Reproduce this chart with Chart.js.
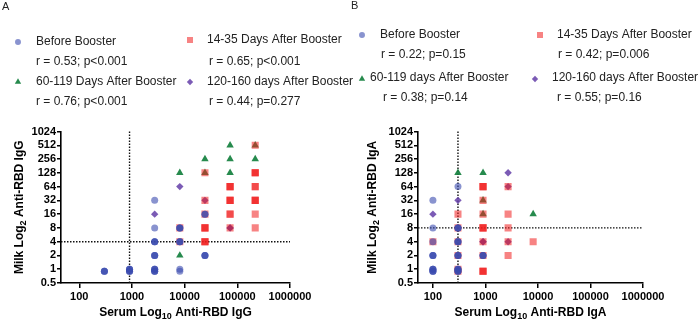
<!DOCTYPE html>
<html>
<head>
<meta charset="utf-8">
<script src="https://cdn.jsdelivr.net/npm/chart.js@4.4.0/dist/chart.umd.min.js"></script>
<style>
  body { margin: 0; background: #fff; }
  #wrap { position: relative; width: 699px; height: 325px; overflow: hidden; }
  .panel { position: absolute; top: 0; height: 325px; }
</style>
</head>
<body>
<div id="wrap">
  <div class="panel" style="left:0;width:360px"><canvas id="chartA"></canvas></div>
  <div class="panel" style="left:350px;width:349px;z-index:2"><canvas id="chartB"></canvas></div>
</div>
<script>
const FONT = "'Liberation Sans', Arial, Helvetica, sans-serif";

// series names and correlation stats
const seriesA = ['Before Booster', '14-35 Days After Booster', '60-119 Days After Booster', '120-160 days After Booster'];
const seriesB = ['Before Booster', '14-35 Days After Booster', '60-119 days After Booster', '120-160 days After Booster'];
const statsA = ['r = 0.53; p<0.001', 'r = 0.65; p<0.001', 'r = 0.76; p<0.001', 'r = 0.44; p=0.277'];
const statsB = ['r = 0.22; p=0.15', 'r = 0.42; p=0.006', 'r = 0.38; p=0.14', 'r = 0.55; p=0.16'];

// axis ticks
const xTicks = [100, 1000, 10000, 100000, 1000000];
const yTicks = [0.5, 1, 2, 4, 8, 16, 32, 64, 128, 256, 512, 1024];

// positivity cut-offs [serum, milk]
const iggCutoff = [900, 4];
const igaCutoff = [300, 8];

// panel A - IgG, [serum titer, milk titer], repeated points = several participants
const iggBefore = [
  [300,0.9],[300,0.9],[300,0.9],
  [900,1],[900,1],[900,1],[900,0.9],[900,0.9],[900,0.9],
  [2700,1],[2700,1],[2700,1],[2700,0.9],[2700,0.9],[2700,0.9],
  [2700,2],[2700,2],[2700,2],[2700,4],[2700,4],[2700,4],[2700,8],[2700,32],
  [8100,1],[8100,0.9],[8100,4],[8100,4],[8100,4],[8100,8],[8100,8],[8100,8],
  [24300,2],[24300,2],[24300,2],[24300,16],[24300,16]
];
const igg14to35 = [
  [8100,4],[8100,8],
  [24300,4],[24300,4],[24300,4],[24300,8],[24300,8],[24300,8],[24300,16],[24300,32],[24300,128],
  [72900,8],[72900,16],[72900,16],[72900,32],[72900,32],[72900,32],[72900,64],[72900,64],[72900,64],
  [218700,8],[218700,16],[218700,32],[218700,32],[218700,32],[218700,64],[218700,64],
  [218700,128],[218700,128],[218700,128],[218700,512]
];
const igg60to119 = [
  [8100,2],[8100,128],[24300,128],[24300,256],[72900,128],[72900,256],[72900,512],[218700,256],[218700,512]
];
const igg120to160 = [
  [2700,16],[8100,64],[24300,32],[72900,8],[72900,8]
];

// panel B - IgA
const igaBefore = [
  [100,1],[100,1],[100,1],[100,0.9],[100,0.9],[100,0.9],[100,2],[100,2],[100,2],[100,4],[100,8],[100,32],
  [300,1],[300,1],[300,1],[300,0.9],[300,0.9],[300,0.9],[300,2],[300,2],[300,2],
  [300,4],[300,4],[300,4],[300,8],[300,8],[300,8],[300,64],
  [900,2],[900,2],[900,2]
];
const iga14to35 = [
  [100,4],[300,1],[300,0.9],[300,2],[300,4],[300,8],[300,16],
  [900,0.9],[900,0.9],[900,0.9],[900,2],[900,4],[900,8],[900,8],[900,8],[900,16],[900,32],
  [900,64],[900,64],[900,64],
  [2700,2],[2700,4],[2700,8],[2700,16],[2700,64],[8100,4]
];
const iga60to119 = [
  [300,128],[900,128],[900,16],[900,32],[8100,16]
];
const iga120to160 = [
  [100,16],[300,32],[900,4],[900,4],[2700,4],[2700,64],[2700,128]
];

const markers = [
  { style: 'circle',   radius: 3.5, color: 'rgba(58,75,175,0.6)',  order: 1 },
  { style: 'rect',     radius: 5,   color: 'rgba(240,30,30,0.55)', order: 2 },
  { style: 'triangle', radius: 4.3, color: 'rgba(20,128,62,0.92)', order: 4 },
  { style: 'rectRot',  radius: 3.7, color: 'rgba(100,62,168,0.85)', order: 3 }
];

function drawRich(ctx, parts, cx, cy, angle) {
  const big = 'bold 12px ' + FONT, small = 'bold 9px ' + FONT;
  const widths = parts.map(p => { ctx.font = p[1] ? small : big; return ctx.measureText(p[0]).width; });
  const total = widths.reduce((a, b) => a + b, 0);
  ctx.save();
  ctx.translate(cx, cy);
  ctx.rotate(angle);
  ctx.fillStyle = '#000';
  ctx.textBaseline = 'middle';
  ctx.textAlign = 'left';
  let x = -total / 2;
  parts.forEach((p, i) => {
    ctx.font = p[1] ? small : big;
    ctx.fillText(p[0], x, p[1] ? 4 : 0);
    x += widths[i];
  });
  ctx.restore();
}

function decor(cfg) {
  return {
    id: 'decor',
    beforeDatasetsDraw(chart) {
      const { ctx, chartArea: a, scales } = chart;
      const px = scales.x.getPixelForValue(cfg.cutoff[0]);
      const py = scales.y.getPixelForValue(cfg.cutoff[1]);
      ctx.save();
      ctx.strokeStyle = '#111';
      ctx.lineWidth = 1.4;
      ctx.setLineDash([1.5, 1.5]);
      ctx.beginPath();
      ctx.moveTo(px, a.bottom); ctx.lineTo(px, a.top);
      ctx.moveTo(a.left, py); ctx.lineTo(a.right, py);
      ctx.stroke();
      ctx.restore();
    },
    afterDraw(chart) {
      const { ctx, chartArea: a } = chart;
      ctx.save();
      ctx.fillStyle = '#222';
      ctx.font = '11px ' + FONT;
      ctx.textBaseline = 'middle';
      ctx.fillText(cfg.letter[0], cfg.letter[1], cfg.letter[2]);
      // legend, 2 x 2 with stats below each name
      cfg.legend.forEach((it, i) => {
        const m = markers[i];
        ctx.fillStyle = m.color;
        Chart.helpers.drawPoint(ctx, { pointStyle: m.style, radius: m.radius * 0.85, rotation: 0, borderWidth: 0 }, it[0], it[1]);
        ctx.fillStyle = '#222';
        ctx.font = '12px ' + FONT;
        ctx.fillText(cfg.names[i], it[2], it[3]);
        ctx.fillText(cfg.stats[i], it[4], it[5]);
      });
      ctx.restore();
      drawRich(ctx, cfg.xTitle, (a.left + a.right) / 2, 313, 0);
      drawRich(ctx, cfg.yTitle, cfg.yTitleX, (a.top + a.bottom) / 2, -Math.PI / 2);
    }
  };
}

function makeChart(id, series, cfg) {
  const datasets = series.map((pts, i) => ({
    label: cfg.names[i],
    data: pts.map(p => ({ x: p[0], y: p[1] })),
    pointStyle: markers[i].style,
    pointRadius: markers[i].radius,
    pointHoverRadius: markers[i].radius,
    backgroundColor: markers[i].color,
    borderWidth: 0,
    order: markers[i].order
  }));
  const tickFont = { family: FONT, size: 11, weight: 'bold' };
  return new Chart(document.getElementById(id), {
    type: 'scatter',
    data: { datasets },
    options: {
      responsive: true,
      maintainAspectRatio: false,
      animation: false,
      events: [],
      layout: { padding: { top: 131.5, left: 0, right: cfg.padRight, bottom: 0 } },
      plugins: { legend: { display: false }, tooltip: { enabled: false } },
      scales: {
        x: {
          type: 'logarithmic',
          min: cfg.xMin,
          max: 1000000,
          afterBuildTicks: s => { s.ticks = xTicks.map(v => ({ value: v })); },
          afterFit: s => { s.height = 42; },
          ticks: { font: tickFont, color: '#000', padding: 2, maxRotation: 0, autoSkip: false, callback: v => String(v) },
          grid: { drawOnChartArea: false, drawTicks: true, tickLength: 5, color: '#000', lineWidth: 1.5 },
          border: { color: '#000', width: 1.6 }
        },
        y: {
          type: 'logarithmic',
          min: 0.5,
          max: 1024,
          afterBuildTicks: s => { s.ticks = yTicks.map(v => ({ value: v })); },
          afterFit: s => { s.width = cfg.yWidth; },
          ticks: { font: tickFont, color: '#000', padding: 1, autoSkip: false, callback: v => String(v) },
          grid: { drawOnChartArea: false, drawTicks: true, tickLength: 4, color: '#000', lineWidth: 1.5 },
          border: { color: '#000', width: 1.6 }
        }
      }
    },
    plugins: [decor(cfg)]
  });
}

makeChart('chartA', [iggBefore, igg14to35, igg60to119, igg120to160], {
  names: seriesA, stats: statsA, cutoff: iggCutoff,
  xMin: 45, yWidth: 61, padRight: 70, yTitleX: 20,
  letter: ['A', 2, 7],
  legend: [[18, 42, 36, 42, 36, 62], [190, 40, 207, 40, 209, 62], [18, 82, 36, 82, 36, 102], [190, 82, 207, 82, 209, 102]],
  xTitle: [['Serum Log'], ['10', 1], [' Anti-RBD IgG']],
  yTitle: [['Milk Log'], ['2', 1], [' Anti-RBD IgG']]
});

makeChart('chartB', [igaBefore, iga14to35, iga60to119, iga120to160], {
  names: seriesB, stats: statsB, cutoff: igaCutoff,
  xMin: 52, yWidth: 68, padRight: 56, yTitleX: 23,
  letter: ['B', 1, 6],
  legend: [[12, 35, 30, 35, 31, 55], [190, 35, 207, 35, 208, 55], [12, 79, 20, 78, 33, 98], [185, 79, 202, 78, 207, 98]],
  xTitle: [['Serum Log'], ['10', 1], [' Anti-RBD IgA']],
  yTitle: [['Milk Log'], ['2', 1], [' Anti-RBD IgA']]
});
</script>
</body>
</html>
